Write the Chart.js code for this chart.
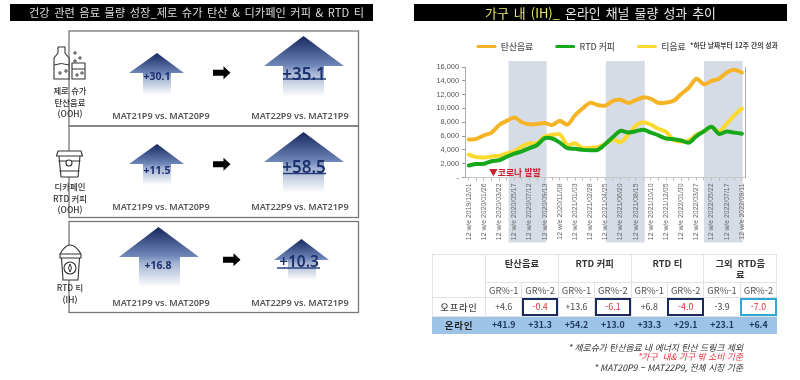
<!DOCTYPE html>
<html lang="ko"><head><meta charset="utf-8">
<script src="https://cdn.jsdelivr.net/npm/chart.js@4"></script>
<style>
html,body{margin:0;padding:0;background:#fff;width:800px;height:380px;overflow:hidden;font-family:"Noto Sans CJK KR","Noto Sans",sans-serif}
#page{position:absolute;left:0;top:0;width:800px;height:380px;filter:blur(.3px)}
.abs{position:absolute;white-space:nowrap}
.bar{background:#000;color:#e8e8e8;text-align:center;height:17px;line-height:17px}
canvas{position:absolute}
table{position:absolute;left:432px;top:254px;width:344px;border-collapse:collapse;table-layout:fixed;font-size:8.8px;color:#444}
td{border:1px solid #e2e2e2;text-align:center;padding:0;overflow:hidden}
.hd{font-weight:700;font-size:9.3px;line-height:11px;vertical-align:top;padding-top:3px;color:#333}
.on td{background:#9dc3e6;color:#1f3864;font-weight:700;border-color:#9dc3e6;font-size:8.8px}
.neg{color:#d8303c}
.box{outline:2px solid #1a2a5e;outline-offset:-2px}
.boxb{outline:2px solid #2ea6d6;outline-offset:-2px}
.note{font-style:italic;font-size:8.8px;right:57px;color:#333}
</style></head><body><div id="page">
<div class="abs bar" style="left:10px;top:4px;width:353px;padding-left:10px;font-size:11.2px;word-spacing:1.5px;color:#ddd">건강 관련 음료 물량 성장_제로 슈가 탄산 &amp; 디카페인 커피 &amp; RTD 티</div>
<div class="abs bar" style="left:414px;top:4px;width:373px;font-size:12.9px;word-spacing:1.5px"><span style="color:#e6e86e">가구 내 (IH)_</span> 온라인 채널 물량 성과 추이</div>
<svg id="left" class="abs" style="left:0;top:0" width="400" height="330"></svg>
<canvas id="c" style="left:400px;top:20px" width="362" height="230"></canvas>
<div class="abs" style="left:690px;top:40px;font-size:6.8px;font-weight:700;color:#444">*하단 날짜부터 12주 간의 성과</div>
<div class="abs" style="left:489px;top:166px;font-size:8.8px;font-weight:700;color:#c8202c;line-height:13px">▼코로나 발발</div>
<table id="t"></table>
<div class="abs note" style="top:341px">* 제로슈가 탄산음료 내 에너지 탄산 드링크 제외</div>
<div class="abs note" style="top:350px;color:#e0303c;font-size:8.8px">*가구 &nbsp;내&amp; 가구 밖 소비 기준</div>
<div class="abs note" style="top:361px">* MAT20P9 – MAT22P9, 전체 시장 기준</div>
</div>
<script>
// ---- data ----
const categories=["12 w/e 2019/12/01","","12 w/e 2020/01/26","","12 w/e 2020/03/22","","12 w/e 2020/05/17","","12 w/e 2020/07/12","","12 w/e 2020/09/13","","12 w/e 2020/11/08","","12 w/e 2021/01/03","","12 w/e 2021/02/28","","12 w/e 2021/04/25","","12 w/e 2021/06/20","","12 w/e 2021/08/15","","12 w/e 2021/10/10","","12 w/e 2021/12/05","","12 w/e 2022/01/30","","12 w/e 2022/03/27","","12 w/e 2022/05/22","","12 w/e 2022/07/17","","12 w/e 2022/09/11"];
const sodaValues=[5500,5600,6100,6500,7600,8200,8700,8000,7700,7750,7900,7600,8200,7650,9000,10000,10800,10500,10400,11100,11250,10800,11200,11600,11400,10800,10850,11100,12100,13000,14300,13500,14000,14300,15200,15600,15200];
const coffeeValues=[1750,1950,2000,2350,2500,3000,3450,3800,4250,4700,5700,5650,5050,4250,4150,4000,3950,4000,4850,5850,6750,6500,6700,6900,6500,6100,5650,5550,5350,5050,6000,6700,7350,6300,6650,6500,6350];
const teaValues=[3300,2950,2900,3050,3150,3500,3800,4500,4950,5000,5950,6150,6250,4700,4950,4250,4300,4400,4850,5550,5100,6200,7500,8000,7650,7050,6600,5450,5200,5350,6200,6650,7300,6650,7800,9000,10000];
const seriesNames=["탄산음료","RTD 커피","티음료"];
const yMax=16000;
const bandRanges=[[5.25,10.25],[18.05,23.2],[31,36.1]];
const growthLabels=["+30.1","+35.1","+11.5","+58.5","+16.8","+10.3"];
const compareLabels=["MAT21P9 vs. MAT20P9","MAT22P9 vs. MAT21P9"];
const rowNames=[["제로 슈가","탄산음료","(OOH)"],["디카페인","RTD 커피","(OOH)"],["RTD 티","(IH)"]];
const tableGroups=["탄산음료","RTD 커피","RTD 티","그외 &nbsp;RTD음<br>료"];
const subHeaders=["GR%-1","GR%-2"];
const offlineRow=["+4.6","-0.4","+13.6","-6.1","+6.8","-4.0","-3.9","-7.0"];
const onlineRow=["+41.9","+31.3","+54.2","+13.0","+33.3","+29.1","+23.1","+6.4"];

// ---- chart ----
const bandPlugin={id:'bands',
 beforeInit(ch){const f=ch.legend.fit;ch.legend.fit=function(){f.call(this);this.height=47;this.minSize&&(this.minSize.height=47);};},
 beforeDraw(ch){const x=ch.scales.x,g=ch.ctx,a=ch.chartArea;g.save();g.fillStyle='#d6dce5';
  bandRanges.forEach(r=>{const l=x.getPixelForValue(r[0]),h=x.getPixelForValue(r[1]);g.fillRect(l,a.top-6,h-l,a.bottom-a.top+71);});g.restore();}};
const line=(label,data,color)=>({label,data,borderColor:color,backgroundColor:color,borderWidth:4,pointRadius:0,tension:.3,borderCapStyle:'round',borderJoinStyle:'round'});
new Chart(document.getElementById('c'),{type:'line',plugins:[bandPlugin],
 data:{labels:categories,datasets:[line(seriesNames[0],sodaValues,'#f5b326'),line(seriesNames[1],coffeeValues,'#17a81c'),line(seriesNames[2],teaValues,'#fbd92e')]},
 options:{responsive:false,animation:false,layout:{padding:0},
  plugins:{tooltip:{enabled:false},legend:{position:'top',labels:{font:{size:8.8,family:'"Noto Sans CJK KR"',weight:'500'},color:'#555',boxWidth:20,boxHeight:3,padding:22,useBorderRadius:true,borderRadius:1.5,
    generateLabels(ch){const it=Chart.defaults.plugins.legend.labels.generateLabels(ch);it.forEach(i=>i.lineWidth=0);return it;}}}},
  scales:{
   x:{offset:true,afterFit(s){s.height=72.5;},grid:{drawOnChartArea:false,color:'#bbb',tickLength:3},border:{color:'#c8c8c8'},
      ticks:{autoSkip:false,maxRotation:90,minRotation:90,font:{size:6.9,family:'"Liberation Sans"'},color:'#666',padding:3}},
   y:{min:0,max:yMax,afterFit(s){s.width=65;},grid:{drawOnChartArea:false,color:'#999',tickLength:3},border:{color:'#aaa'},
      ticks:{stepSize:2000,font:{size:7.4,family:'"Liberation Sans"'},color:'#555',padding:3,callback:v=>v===0?'-':v.toLocaleString('en-US')}},
   y1:{position:'right',min:0,max:yMax,afterFit(s){s.width=16.3;},grid:{drawOnChartArea:false,display:false},border:{display:true,color:'#aaa'},
      ticks:{stepSize:2000,font:{size:7.4,family:'"Liberation Sans"'},color:'#555',padding:9,callback:v=>v===0?'-':''}}
  }}});

// ---- table ----
(function(){
 let h='<colgroup><col style="width:53px">'+'<col style="width:36.4px">'.repeat(8)+'</colgroup>';
 h+='<tr style="height:28px"><td rowspan="2"></td>'+tableGroups.map(g=>`<td colspan="2" class="hd">${g}</td>`).join('')+'</tr>';
 h+='<tr style="height:15px">'+tableGroups.map(()=>subHeaders.map(s=>`<td style="color:#555;font-size:9.4px">${s}</td>`).join('')).join('')+'</tr>';
 h+='<tr style="height:18.5px"><td style="font-size:9.3px;font-weight:500;letter-spacing:.8px">오프라인</td>'+offlineRow.map((v,i)=>{
   let c=v[0]==='-'&&i!==6?'neg':'';if(i%2&&i<7)c+=' box';if(i===7)c+=' boxb';return `<td class="${c}">${v}</td>`;}).join('')+'</tr>';
 h+='<tr class="on" style="height:17px"><td style="font-size:9.5px;letter-spacing:.8px;color:#222">온라인</td>'+onlineRow.map(v=>`<td>${v}</td>`).join('')+'</tr>';
 document.getElementById('t').innerHTML=h;
})();

// ---- left panel ----
(function(){
 const S=document.getElementById('left');let o='<defs>';
 const A=[[157,53,73,129,184,143,171,95,157,76,10.5],[303.5,36,66,264,344,283,324,97,304,73,17,283,326,79],
          [157,144,164,129,184,143,171,185,157,169.5,10.5],[303.5,132,162,264,344,283,324,193,304,166,17,283,326,173.5],
          [158.5,227,257,119,199,139,180,287,158,265,10.5],[301.5,239,260,274,329,288,316,280,299,260.5,15.5,277,320,268]];
 A.forEach((a,i)=>{o+=`<linearGradient id="g${i}" gradientUnits="userSpaceOnUse" x1="0" x2="0" y1="${a[1]}" y2="${a[7]}"><stop offset="0" stop-color="#16285f"/><stop offset=".48" stop-color="#6f86b8"/><stop offset=".6" stop-color="#a3b3d2"/><stop offset="1" stop-color="#fff"/></linearGradient>`;});
 o+='</defs>';
 [[31,126],[126,217.5],[221.5,312.5]].forEach(p=>{o+=`<rect x="69" y="${p[0]}" width="289.5" height="${p[1]-p[0]}" fill="none" stroke="#777" stroke-width="1.3"/>`;});
 A.forEach((a,i)=>{
  o+=`<path fill="url(#g${i})" d="M${a[0]} ${a[1]}L${a[4]} ${a[2]}L${a[6]} ${a[2]}L${a[6]} ${a[7]}L${a[5]} ${a[7]}L${a[5]} ${a[2]}L${a[3]} ${a[2]}Z"/>`;
  if(a[11])o+=`<line x1="${a[11]}" x2="${a[12]}" y1="${a[13]}" y2="${a[13]}" stroke="#2a3f7a" stroke-width="1.4"/>`;
  o+=`<text x="${a[8]}" y="${a[9]}" text-anchor="middle" dominant-baseline="central" font-size="${a[10]}" font-weight="${a[11]?600:700}" fill="#1c2f6e" font-family="Noto Sans">${growthLabels[i]}</text>`;
 });
 [[213,72.7],[213,164.3],[223,259.7]].forEach(p=>{const x=p[0],y=p[1];o+=`<path d="M${x} ${y-3}h10.5v-3.5l7 6.5l-7 6.5v-3.5h-10.5z" fill="#000"/>`;});
 [115,206.7,302].forEach(y=>{[161,300].forEach((x,j)=>{o+=`<text x="${x}" y="${y}" text-anchor="middle" dominant-baseline="central" font-size="9.1" font-weight="600" fill="#555" font-family="Noto Sans">${compareLabels[j]}</text>`;});});
 const names=[[70,[90,102,113]],[70,[185.5,197.5,208.5]],[70,[286.5,299]]];
 names.forEach((n,i)=>rowNames[i].forEach((t,j)=>{o+=`<text x="${n[0]}" y="${n[1][j]}" text-anchor="middle" dominant-baseline="central" font-size="8.4" font-weight="500" fill="#333" font-family="Noto Sans CJK KR">${t}</text>`;}));
 const st='fill="#fff" stroke="#333" stroke-width="1.1" stroke-linejoin="round"';
 o+=`<path ${st} d="M58 47h7v6l4 5v21h-15v-21l4-5z"/><path fill="none" stroke="#333" d="M54 65q7 -3 15 0"/><rect ${st} x="72" y="63" width="13" height="16"/><path fill="none" stroke="#333" d="M72 69h13"/>`;
 [[60,73],[66,71],[77,75],[82,73],[75,53],[80,58],[75,61]].forEach(c=>{o+=`<circle cx="${c[0]}" cy="${c[1]}" r="1.2" fill="none" stroke="#333"/>`;});
 o+=`<path ${st} d="M58 151h23l1.5 5h-26zM59 156h21l-2 21h-17z"/><path fill="none" stroke="#333" d="M58.5 161h22M59.5 171h20"/><circle cx="69" cy="163" r="3" ${st}/>`;
 o+=`<path ${st} d="M60 254q10 -18 21 0zM60 254h21v4h-21zM61.5 258h18l-1.5 22h-15z"/><circle cx="70" cy="268" r="6" ${st}/><path fill="none" stroke="#333" d="M70 264q3 4 0 8q-3 -4 0 -8"/>`;
 S.innerHTML=o;
})();
</script></body></html>
